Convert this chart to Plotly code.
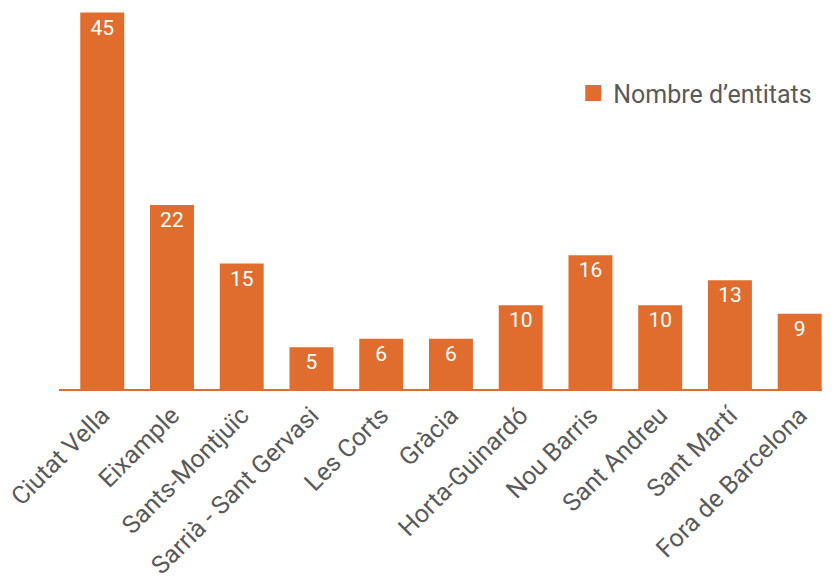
import plotly.graph_objects as go

categories = ["Ciutat Vella", "Eixample", "Sants-Montjuïc", "Sarrià - Sant Gervasi", "Les Corts",
              "Gràcia", "Horta-Guinardó", "Nou Barris", "Sant Andreu", "Sant Martí", "Fora de Barcelona"]
values = [45, 22, 15, 5, 6, 6, 10, 16, 10, 13, 9]
series_name = "Nombre d\u2019entitats"

orange = "#E06D2E"
grey = "#5A5A5A"
fnt = "Roboto"
fig = go.Figure()
fig.add_trace(go.Bar(
    x=categories, y=values, name=series_name,
    marker=dict(color=orange, line=dict(width=0)),
    width=0.63,
    text=[str(v) for v in values], textposition="inside", insidetextanchor="end",
    textangle=0,
    textfont=dict(color="white", size=21, family=fnt),
    showlegend=False,
))
# legend entry (symbol only)
fig.add_trace(go.Scatter(
    x=[None], y=[None], mode="markers", name=series_name,
    marker=dict(symbol="square", size=20, color=orange),
    showlegend=True,
))
fig.update_layout(
    width=835, height=577,
    margin=dict(l=59, r=13, t=0, b=188),
    plot_bgcolor="white", paper_bgcolor="white",
    font=dict(family=fnt, color=grey, size=25),
    xaxis=dict(range=[-0.62, 10.32], tickangle=-45, showline=True, linecolor=orange, linewidth=1.5,
               ticks="", showgrid=False, automargin=False,
               tickfont=dict(size=25, color=grey, family=fnt)),
    yaxis=dict(range=[0, 46.5], visible=False, showgrid=False, zeroline=False, automargin=False),
    legend=dict(x=0.674, y=0.76, xanchor="left", yanchor="middle", font=dict(size=25, color=grey),
                bgcolor="rgba(0,0,0,0)", itemsizing="trace"),
    uniformtext=dict(minsize=10, mode="show"),
)
fig.write_html("out.html", config={"displayModeBar": False},
               post_script="document.body.style.margin='0px';")
